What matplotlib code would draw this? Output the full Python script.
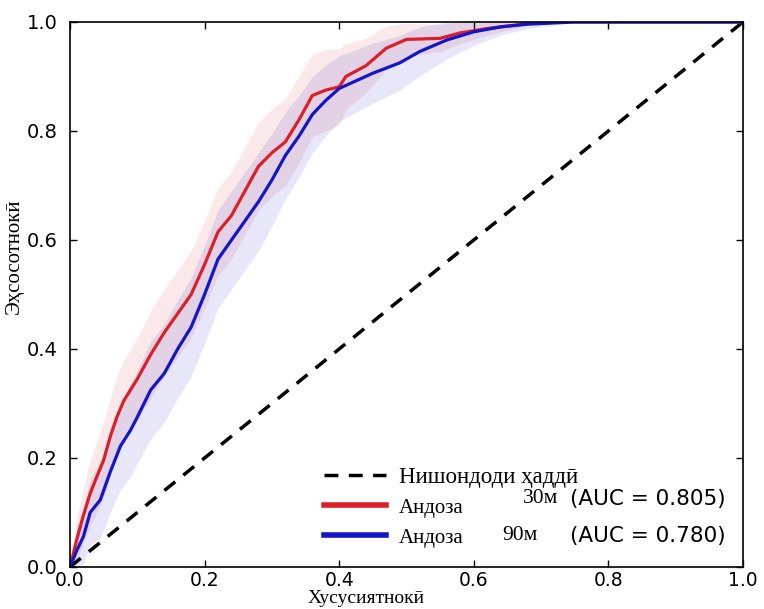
import numpy as np
import matplotlib
matplotlib.use("Agg")
from matplotlib import pyplot as plt

# mean ROC curves
fpr_30 = [0.0, 0.01, 0.02, 0.03, 0.04, 0.05, 0.06, 0.07, 0.08, 0.10, 0.12, 0.14, 0.16, 0.18,
          0.20, 0.22, 0.24, 0.26, 0.28, 0.30, 0.32, 0.34, 0.36, 0.38, 0.40, 0.41, 0.44, 0.47,
          0.50, 0.55, 0.58, 0.62, 0.66, 0.70, 1.0]
tpr_30 = [0.0, 0.05, 0.095, 0.135, 0.166, 0.196, 0.24, 0.276, 0.305, 0.345, 0.39, 0.43, 0.465, 0.50,
          0.555, 0.615, 0.645, 0.69, 0.735, 0.76, 0.78, 0.82, 0.865, 0.875, 0.881, 0.90, 0.92, 0.952,
          0.968, 0.97, 0.98, 0.988, 0.994, 1.0, 1.0]
std_30 = [0.0, 0.04, 0.05, 0.06, 0.065, 0.07, 0.07, 0.075, 0.075, 0.075, 0.08, 0.08, 0.08, 0.08,
          0.08, 0.08, 0.08, 0.08, 0.08, 0.08, 0.08, 0.08, 0.075, 0.075, 0.07, 0.06, 0.05, 0.04,
          0.03, 0.025, 0.02, 0.012, 0.006, 0.0, 0.0]

fpr_90 = [0.0, 0.01, 0.02, 0.03, 0.045, 0.06, 0.075, 0.09, 0.10, 0.12, 0.14, 0.16, 0.18, 0.20,
          0.22, 0.24, 0.26, 0.28, 0.30, 0.32, 0.34, 0.36, 0.38, 0.40, 0.45, 0.49, 0.52, 0.56,
          0.60, 0.64, 0.68, 0.75, 1.0]
tpr_90 = [0.0, 0.03, 0.056, 0.10, 0.123, 0.175, 0.222, 0.251, 0.275, 0.325, 0.355, 0.40, 0.44, 0.50,
          0.565, 0.60, 0.635, 0.67, 0.71, 0.755, 0.79, 0.83, 0.856, 0.878, 0.906, 0.925, 0.946, 0.967,
          0.982, 0.991, 0.996, 1.0, 1.0]
std_90 = [0.0, 0.04, 0.05, 0.06, 0.07, 0.075, 0.08, 0.085, 0.085, 0.09, 0.09, 0.09, 0.09, 0.09,
          0.09, 0.09, 0.09, 0.09, 0.085, 0.08, 0.075, 0.07, 0.065, 0.06, 0.055, 0.05, 0.045, 0.035,
          0.025, 0.015, 0.008, 0.0, 0.0]

chance = [0.0, 1.0]
auc_30 = 0.805
auc_90 = 0.780
ticks = [0.0, 0.2, 0.4, 0.6, 0.8, 1.0]

serif = ['Liberation Serif', 'DejaVu Serif']

fig = plt.figure(figsize=(7.64, 6.09), dpi=100)
ax = fig.add_axes([0.0916, 0.069, 0.8809, 0.8949])

red = '#dc1e28'
blue = '#1414c8'

def band(fpr, tpr, std, color):
    tpr = np.array(tpr)
    std = np.array(std)
    lo = np.clip(tpr - std, 0, 1)
    hi = np.clip(tpr + std, 0, 1)
    ax.fill_between(fpr, lo, hi, color=color, alpha=0.1, lw=0)

band(fpr_30, tpr_30, std_30, red)
band(fpr_90, tpr_90, std_90, blue)

l0, = ax.plot(chance, chance, '--', color='k', lw=2.5, dashes=(4, 3))
l1, = ax.plot(fpr_30, tpr_30, color=red, lw=2.3)
l2, = ax.plot(fpr_90, tpr_90, color=blue, lw=2.3)

ax.set_xlim(0, 1)
ax.set_ylim(0, 1)
ax.set_xticks(ticks)
ax.set_yticks(ticks)
ax.set_xticklabels(['%.1f' % t for t in ticks])
ax.set_yticklabels(['%.1f' % t for t in ticks])
ax.tick_params(direction='in', top=True, right=True, length=5, width=1, labelsize=14)
ax.tick_params(axis='x', pad=3, labelsize=13.5)
ax.tick_params(axis='y', pad=9)
for s in ax.spines.values():
    s.set_linewidth(1.2)

ax.set_xlabel('Хусусиятнокӣ', family=serif, fontsize=14)
ax.xaxis.set_label_coords(0.44, -0.043)
ax.set_ylabel('Эҳсосотнокӣ', family=serif, fontsize=15)
ax.yaxis.set_label_coords(-0.068, 0.57)

leg = ax.legend([l0, l1, l2], ['Нишондоди ҳаддӣ', 'Андоза', 'Андоза'],
                loc='lower left', bbox_to_anchor=(0.365, 0.02), frameon=False,
                prop={'family': serif, 'size': 15}, handlelength=3.0, handletextpad=0.6,
                labelspacing=0.5, borderaxespad=0)
leg.get_texts()[0].set_fontsize(16.5)
for ln in leg.get_lines()[1:]:
    ln.set_linewidth(4)

ax.text(0.673, 0.125, '30м', family=serif, fontsize=15.5, va='center', transform=ax.transAxes)
ax.text(0.743, 0.125, '(AUC = %.3f)' % auc_30, fontsize=15.5, va='center', transform=ax.transAxes)
ax.text(0.643, 0.057, '90м', family=serif, fontsize=15.5, va='center', transform=ax.transAxes)
ax.text(0.743, 0.057, '(AUC = %.3f)' % auc_90, fontsize=15.5, va='center', transform=ax.transAxes)

fig.savefig('out.png', dpi=100)
